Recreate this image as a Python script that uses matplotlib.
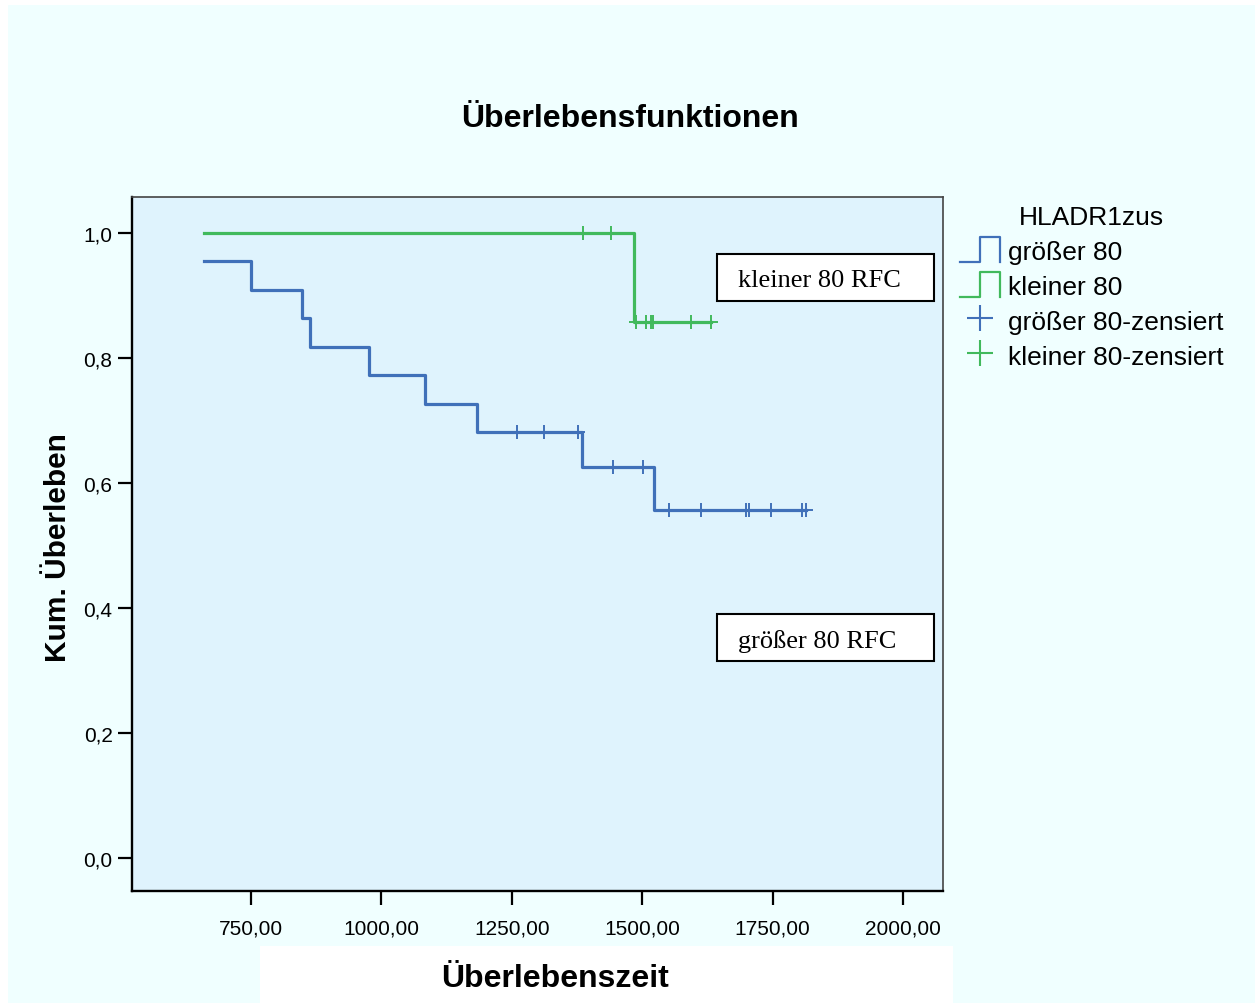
import matplotlib
matplotlib.use("Agg")
import matplotlib.pyplot as plt
from matplotlib.patches import Rectangle
from matplotlib.lines import Line2D
from matplotlib.legend_handler import HandlerBase

# ---------------- data ----------------
blue_times = [660, 750, 848, 863, 977, 1084, 1183, 1385, 1522, 1815]
blue_surv = [0.955, 0.909, 0.864, 0.818, 0.773, 0.727, 0.682, 0.625, 0.556, 0.556]
blue_cens_t = [1260, 1312, 1377, 1444, 1502, 1551, 1613, 1699, 1704, 1747, 1806, 1815]
blue_cens_s = [0.682, 0.682, 0.682, 0.625, 0.625, 0.556, 0.556, 0.556, 0.556, 0.556, 0.556, 0.556]

green_times = [660, 1484, 1631]
green_surv = [1.0, 0.857, 0.857]
green_cens_t = [1386, 1440, 1489, 1507, 1516, 1521, 1593, 1631]
green_cens_s = [1.0, 1.0, 0.857, 0.857, 0.857, 0.857, 0.857, 0.857]

x_ticks = [750, 1000, 1250, 1500, 1750, 2000]
x_ticklabels = ["750,00", "1000,00", "1250,00", "1500,00", "1750,00", "2000,00"]
y_ticks = [0.0, 0.2, 0.4, 0.6, 0.8, 1.0]
y_ticklabels = ["0,0", "0,2", "0,4", "0,6", "0,8", "1,0"]

legend_title = "HLADR1zus"
series_labels = ["größer 80", "kleiner 80", "größer 80-zensiert", "kleiner 80-zensiert"]
box_labels = ["kleiner 80 RFC", "größer 80 RFC"]

BLUE = "#4070b9"
GREEN = "#41b95c"

plt.rcParams["font.family"] = ["Liberation Sans", "DejaVu Sans"]

W, H = 1255, 1004
fig = plt.figure(figsize=(W / 100, H / 100), dpi=100, facecolor="white")

# background panels
fig.patches.append(Rectangle((8 / W, 0), 1, (H - 6) / H, transform=fig.transFigure,
                             facecolor="#f0ffff", edgecolor="none", zorder=-10))
fig.patches.append(Rectangle((260 / W, 0), 693 / W, 57 / H, transform=fig.transFigure,
                             facecolor="white", edgecolor="none", zorder=-9))

ax = fig.add_axes([132 / W, 1 - 892 / H, (943 - 132) / W, (892 - 198) / H])
ax.set_facecolor("#dff3fd")

ax.step(blue_times, blue_surv, where="post", color=BLUE, lw=2.3, zorder=3)
ax.step(green_times, green_surv, where="post", color=GREEN, lw=2.3, zorder=3)
ax.plot(blue_cens_t, blue_cens_s, linestyle="none", marker="+", ms=9.5, mew=1.4,
        color=BLUE, zorder=4)
ax.plot(green_cens_t, green_cens_s, linestyle="none", marker="+", ms=9.5, mew=1.4,
        color=GREEN, zorder=4)

ax.set_xlim(521.9, 2076.7)
ax.set_ylim(-0.0528, 1.0576)
ax.set_xticks(x_ticks)
ax.set_xticklabels(x_ticklabels)
ax.set_yticks(y_ticks)
ax.set_yticklabels(y_ticklabels)
ax.tick_params(axis="both", direction="out", length=10, width=1.6, labelsize=15, color="black")
ax.tick_params(axis="x", pad=10)
ax.tick_params(axis="y", pad=4)

for s in ["left", "bottom"]:
    ax.spines[s].set_linewidth(1.7)
    ax.spines[s].set_color("black")
for s in ["top", "right"]:
    ax.spines[s].set_linewidth(1.2)
    ax.spines[s].set_color("#444444")

# annotation boxes
for (y0, y1), lab in zip([(0.8501, 0.9179), (0.3314, 0.3991)], box_labels):
    ax.add_patch(Rectangle((0.7213, y0), 0.9889 - 0.7213, y1 - y0, transform=ax.transAxes,
                           facecolor="white", edgecolor="black", lw=1.5, zorder=5))
    ax.text(0.7472, (y0 + y1) / 2 - 0.004, lab, transform=ax.transAxes, ha="left",
            va="center", fontsize=19, family=["Liberation Serif", "DejaVu Serif"], zorder=6)

# titles
fig.text(630 / W, 1 - 119 / H, "Überlebensfunktionen", ha="center", va="center",
         fontsize=23, fontweight="bold")
fig.text(555 / W, 1 - 979 / H, "Überlebenszeit", ha="center", va="center",
         fontsize=23, fontweight="bold")
fig.text(58 / W, 1 - 548 / H, "Kum. Überleben", ha="center", va="center", rotation=90,
         fontsize=21.5, fontweight="bold")


# legend
class StepHandler(HandlerBase):
    def create_artists(self, legend, orig_handle, xdescent, ydescent, width, height,
                       fontsize, trans):
        x0, y0 = -xdescent, -ydescent
        xs = [x0, x0 + 0.5 * width, x0 + 0.5 * width, x0 + width, x0 + width]
        ys = [y0, y0, y0 + height, y0 + height, y0]
        ln = Line2D(xs, ys, color=orig_handle.get_color(), lw=1.6, transform=trans)
        return [ln]


class StepProxy:
    def __init__(self, color):
        self.color = color

    def get_color(self):
        return self.color


h_blue = StepProxy(BLUE)
h_green = StepProxy(GREEN)
h_bc = Line2D([], [], linestyle="none", marker="+", ms=19, mew=1.5, color=BLUE)
h_gc = Line2D([], [], linestyle="none", marker="+", ms=19, mew=1.5, color=GREEN)

leg = fig.legend([h_blue, h_green, h_bc, h_gc], series_labels, title=legend_title,
                 loc="upper left", bbox_to_anchor=(960 / W, 1 - 206 / H),
                 bbox_transform=fig.transFigure, frameon=False, fontsize=19,
                 title_fontsize=19, handlelength=1.52, handleheight=1.08,
                 handletextpad=0.3, labelspacing=0.32, borderpad=0, borderaxespad=0,
                 handler_map={StepProxy: StepHandler()})

fig.savefig("out.png", dpi=100, facecolor=fig.get_facecolor())
